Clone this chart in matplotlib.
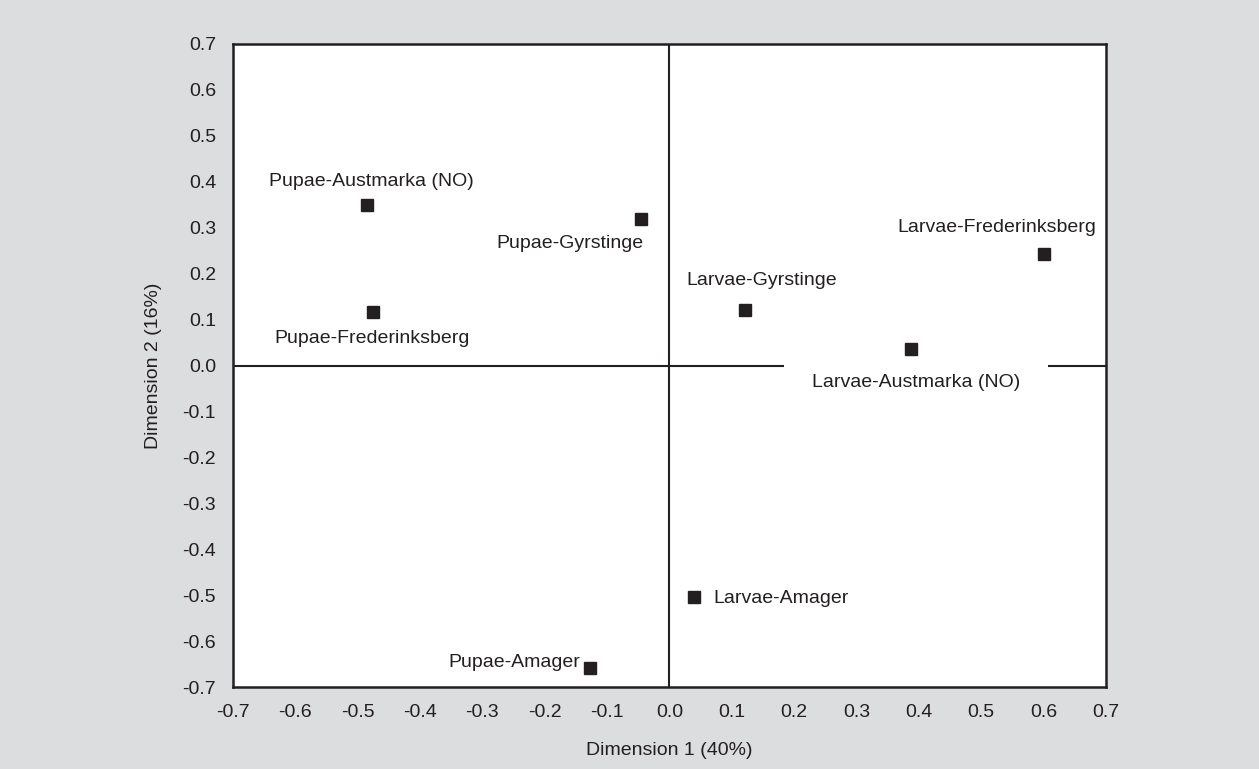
import matplotlib
matplotlib.use("Agg")
import matplotlib.pyplot as plt

# sample scores on the first two dimensions
labels = ["Pupae-Austmarka (NO)", "Pupae-Gyrstinge", "Pupae-Frederinksberg",
          "Larvae-Gyrstinge", "Larvae-Frederinksberg", "Larvae-Austmarka (NO)",
          "Larvae-Amager", "Pupae-Amager"]
dim1 = [-0.485, -0.046, -0.475, 0.121, 0.600, 0.387, 0.039, -0.128]
dim2 = [0.350, 0.319, 0.117, 0.121, 0.243, 0.036, -0.504, -0.659]

ticks = [-0.7, -0.6, -0.5, -0.4, -0.3, -0.2, -0.1, 0.0, 0.1, 0.2, 0.3, 0.4, 0.5, 0.6, 0.7]

# label placement (offset in points, alignment, box padding)
label_pos = {
    "Pupae-Austmarka (NO)": ((3, 17), "center", 1),
    "Pupae-Gyrstinge": ((2, -18), "right", 1),
    "Pupae-Frederinksberg": ((-1, -19), "center", 1),
    "Larvae-Gyrstinge": ((12, 21), "center", 1),
    "Larvae-Frederinksberg": ((38, 19), "right", 1),
    "Larvae-Austmarka (NO)": ((4, -24), "center", 20),
    "Larvae-Amager": ((14, -1), "left", 1),
    "Pupae-Amager": ((-7, 4), "right", 1),
}

plt.rcParams['font.family'] = ['Liberation Sans', 'DejaVu Sans']
dark = '#231f20'
bg = '#dcdddf'

fig = plt.figure(figsize=(12.59, 7.69), dpi=100, facecolor=bg)
ax = fig.add_axes([0.185, 0.1066, 0.6934, 0.8362])
ax.set_facecolor('white')

ax.axhline(0, color=dark, lw=1.5, zorder=1)
ax.axvline(0, color=dark, lw=1.5, zorder=1)
ax.plot(dim1, dim2, 's', color=dark, ms=8.5, ls='none', zorder=7)

for name, x, y in zip(labels, dim1, dim2):
    (dx, dy), ha, pad = label_pos[name]
    ax.annotate(name, (x, y), xytext=(dx, dy), textcoords='offset points',
                ha=ha, va='center', fontsize=14, color=dark, zorder=6,
                bbox=dict(facecolor='white', edgecolor='none', pad=pad))

ax.set_xlim(-0.7, 0.7)
ax.set_ylim(-0.7, 0.7)
ax.set_xticks(ticks)
ax.set_yticks(ticks)
ax.set_xticklabels([f"{t:.1f}" for t in ticks])
ax.set_yticklabels([f"{t:.1f}" for t in ticks])
ax.tick_params(length=0, labelsize=14, colors=dark, pad=12)
for s in ax.spines.values():
    s.set_linewidth(1.8)
    s.set_color(dark)
    s.set_zorder(5)

ax.set_xlabel("Dimension 1 (40%)", fontsize=14, color=dark, labelpad=15)
ax.set_ylabel("Dimension 2 (16%)", fontsize=14, color=dark, labelpad=15)

fig.savefig("out.png", dpi=100, facecolor=bg)
